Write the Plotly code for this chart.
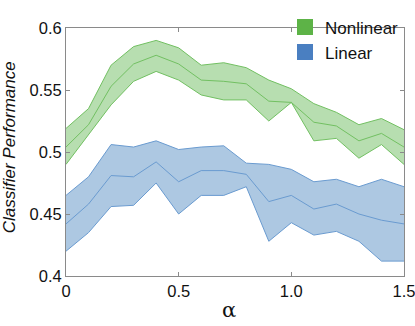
import plotly.graph_objects as go

# alpha values
alpha = [0, 0.1, 0.2, 0.3, 0.4, 0.5, 0.6, 0.7, 0.8, 0.9, 1.0, 1.1, 1.2, 1.3, 1.4, 1.5]

# Nonlinear classifier: mean and band
nonlin_mean = [0.504, 0.522, 0.553, 0.571, 0.578, 0.571, 0.558, 0.557,
               0.555, 0.541, 0.540, 0.524, 0.521, 0.509, 0.515, 0.504]
nonlin_upper = [0.519, 0.535, 0.570, 0.585, 0.590, 0.584, 0.570, 0.572,
                0.568, 0.558, 0.551, 0.539, 0.532, 0.522, 0.527, 0.518]
nonlin_lower = [0.490, 0.514, 0.538, 0.557, 0.565, 0.558, 0.546, 0.542,
                0.542, 0.525, 0.540, 0.509, 0.511, 0.495, 0.506, 0.490]

# Linear classifier: mean and band
lin_mean = [0.442, 0.458, 0.481, 0.480, 0.492, 0.476, 0.485, 0.485,
            0.482, 0.460, 0.465, 0.454, 0.458, 0.450, 0.445, 0.442]
lin_upper = [0.465, 0.480, 0.506, 0.504, 0.509, 0.502, 0.504, 0.505,
             0.491, 0.490, 0.486, 0.476, 0.478, 0.472, 0.478, 0.472]
lin_lower = [0.420, 0.435, 0.456, 0.457, 0.475, 0.450, 0.465, 0.465,
             0.472, 0.428, 0.443, 0.433, 0.436, 0.428, 0.412, 0.412]

x_ticks = [0, 0.5, 1.0, 1.5]
x_tick_text = ["0", "0.5", "1.0", "1.5"]
y_ticks = [0.4, 0.45, 0.5, 0.55, 0.6]
y_tick_text = ["0.4", "0.45", "0.5", "0.55", "0.6"]

series = [
    ("Nonlinear", nonlin_lower, nonlin_mean, nonlin_upper,
     "rgba(112,190,98,0.5)", "#72c062", "#5db347"),
    ("Linear", lin_lower, lin_mean, lin_upper,
     "rgba(98,150,200,0.52)", "#6a9bd0", "#4a7fc1"),
]

fig = go.Figure()

for name, lower, mean, upper, fill_col, line_col, legend_col in series:
    # band: lower edge then upper edge filled down to it
    fig.add_trace(go.Scatter(x=alpha, y=lower, mode="lines",
                             line=dict(color=line_col, width=1),
                             showlegend=False, hoverinfo="skip"))
    fig.add_trace(go.Scatter(x=alpha, y=upper, mode="lines", fill="tonexty",
                             fillcolor=fill_col,
                             line=dict(color=line_col, width=1),
                             showlegend=False, hoverinfo="skip"))
    fig.add_trace(go.Scatter(x=alpha, y=mean, mode="lines",
                             line=dict(color=line_col, width=1),
                             showlegend=False))
    # legend patch
    fig.add_trace(go.Scatter(x=[None], y=[None], mode="markers", name=name,
                             marker=dict(symbol="square", size=16, color=legend_col)))

axis_common = dict(
    showgrid=False, zeroline=False, showline=True, linecolor="#8a8a8a",
    linewidth=1, mirror="ticks", ticks="inside", ticklen=4, tickcolor="#8a8a8a",
    tickfont=dict(family="Liberation Sans, Arial", size=16.5, color="#111"),
    ticklabeloverflow="allow", automargin=False,
)

fig.update_xaxes(range=[0, 1.5], tickvals=x_ticks, ticktext=x_tick_text, **axis_common)
fig.update_yaxes(range=[0.4, 0.6], tickvals=y_ticks, ticktext=y_tick_text, **axis_common)

# axis titles placed by hand, like the original figure
fig.add_annotation(text="α", xref="paper", yref="paper", x=0.482, y=-0.138,
                   xanchor="center", yanchor="middle", showarrow=False,
                   font=dict(family="DejaVu Serif", size=21, color="#111"))
fig.add_annotation(text="Classifier Performance", xref="paper", yref="paper",
                   x=-0.168, y=0.52, xanchor="center", yanchor="middle",
                   textangle=-90, showarrow=False,
                   font=dict(family="Liberation Sans, Arial", size=17,
                             color="#111", style="italic"))

fig.update_layout(
    width=415, height=326,
    margin=dict(l=66, r=11, t=9, b=50),
    plot_bgcolor="white", paper_bgcolor="white",
    legend=dict(x=1.0, y=1.075, xanchor="right", yanchor="top", traceorder="normal",
                bgcolor="rgba(0,0,0,0)", tracegroupgap=0, itemwidth=30,
                font=dict(family="Liberation Sans, Arial", size=17, color="#111")),
)

# the page's default body margin would push the 415x326 figure off the window
fig.write_html("out.html", config={"displayModeBar": False},
               post_script="document.body.style.margin = '0';")
